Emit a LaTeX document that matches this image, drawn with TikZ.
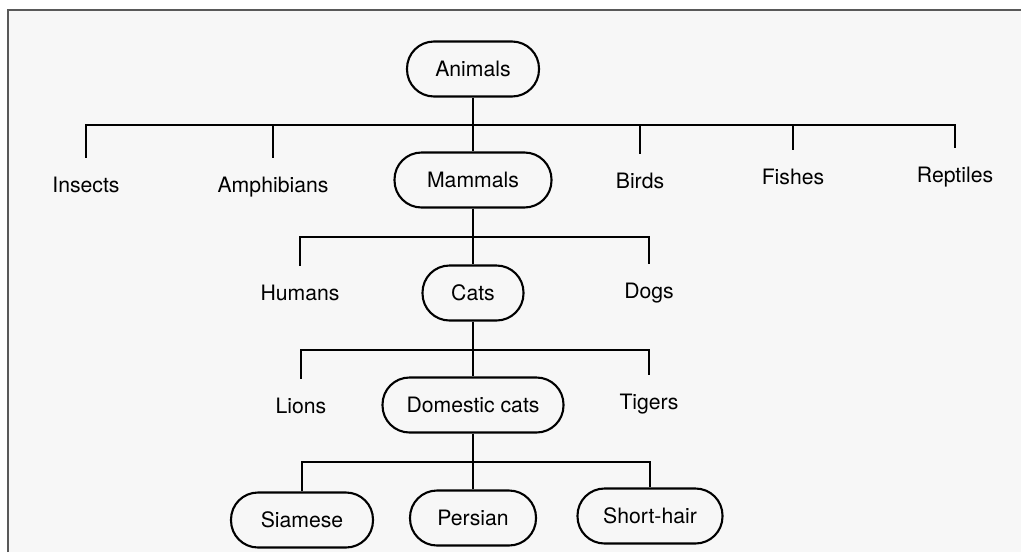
\documentclass[tikz,border=0pt]{standalone}
\usepackage{fontspec}
\setmainfont{TeX Gyre Heros}
\begin{document}
\begin{tikzpicture}[x=0.5pt,y=-0.5pt,
  every node/.style={font=\fontsize{10.6pt}{12pt}\selectfont, text=black},
  pill/.style={draw=black, line width=1.05pt, rounded corners=13.5pt, minimum height=27.5pt, inner sep=0pt},
  lbl/.style={inner xsep=1pt, inner ysep=9.6pt, text height=7.6pt, text depth=2pt},
  conn/.style={draw=black, line width=1.05pt}]
\useasboundingbox (0,0) rectangle (1021,552);
\fill[white] (0,0) rectangle (1021,552);
\fill[black!3] (8,10) rectangle (1021,552);
\draw[black!65, line width=0.6pt] (8,552) -- (8,10) -- (1021,10);

% boxes
\node[pill, minimum width=66pt] (animals) at (473,69) {Animals};
\node[pill, minimum width=78.5pt] (mammals) at (473,180) {Mammals};
\node[pill, minimum width=50.5pt] (cats) at (473,293) {Cats};
\node[pill, minimum width=90.5pt] (dcats) at (473,405) {Domestic cats};
\node[pill, minimum width=71pt] (siamese) at (302,520) {Siamese};
\node[pill, minimum width=63pt] (persian) at (473,518) {Persian};
\node[pill, minimum width=72.5pt] (shorthair) at (650,516) {Short-hair};

% plain labels
\node[lbl] (insects) at (86,187) {Insects};
\node[lbl] (amphibians) at (273,187) {Amphibians};
\node[lbl] (birds) at (640,183) {Birds};
\node[lbl] (fishes) at (793,179) {Fishes};
\node[lbl] (reptiles) at (955,177) {Reptiles};
\node[lbl] (humans) at (300,295) {Humans};
\node[lbl] (dogs) at (649,293) {Dogs};
\node[lbl] (lions) at (301,408) {Lions};
\node[lbl] (tigers) at (649,404) {Tigers};

% junctions
\coordinate (b1) at (473,125);
\coordinate (b2) at (473,237);
\coordinate (b3) at (473,350);
\coordinate (b4) at (473,462);

% connectors
\draw[conn] (animals.south) -- (mammals.north);
\foreach \n in {insects,amphibians,birds,fishes,reptiles}
  \draw[conn] (\n.north) |- (b1);
\draw[conn] (mammals.south) -- (cats.north);
\foreach \n in {humans,dogs}
  \draw[conn] (\n.north) |- (b2);
\draw[conn] (cats.south) -- (dcats.north);
\foreach \n in {lions,tigers}
  \draw[conn] (\n.north) |- (b3);
\draw[conn] (dcats.south) -- (b4);
\foreach \n in {siamese,persian,shorthair}
  \draw[conn] (\n.north) |- (b4);
\end{tikzpicture}
\end{document}
